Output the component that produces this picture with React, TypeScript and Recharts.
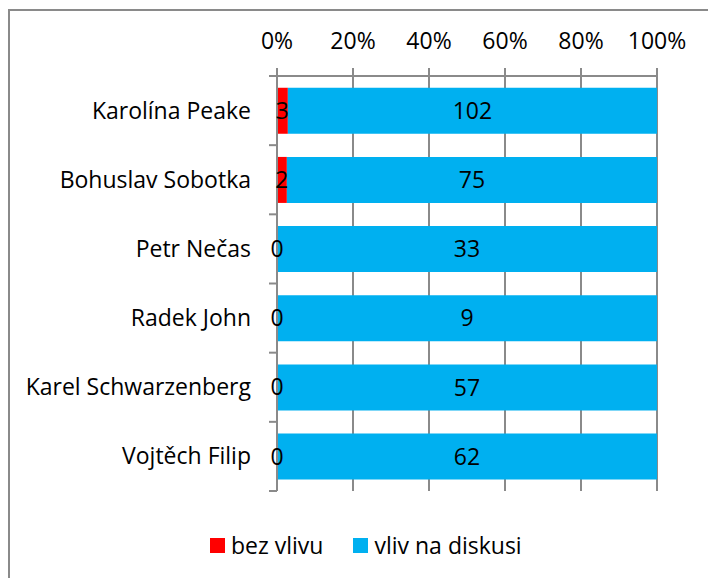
import React from 'react';
import { BarChart, Bar, XAxis, YAxis, CartesianGrid, LabelList, Legend } from 'recharts';

const categories = [
  'Karolína Peake',
  'Bohuslav Sobotka',
  'Petr Nečas',
  'Radek John',
  'Karel Schwarzenberg',
  'Vojtěch Filip',
];
const bezVlivu = [3, 2, 0, 0, 0, 0];
const vlivNaDiskusi = [102, 75, 33, 9, 57, 62];
const percentTicks = [0, 0.2, 0.4, 0.6, 0.8, 1];
const seriesNames = ['bez vlivu', 'vliv na diskusi'];
const seriesColors = ['#FF0000', '#00B0F0'];

const data = categories.map((name, i) => ({ name, bez: bezVlivu[i], vliv: vlivNaDiskusi[i] }));

const W = 708;
const H = 578;
const FONT = '"Open Sans", "Noto Sans", sans-serif';
const FS = 23;
const GRAY = '#8a8a8a';
const margin = { top: 16, right: 51, bottom: 20, left: 7 };
const X_AXIS_H = 60;
const LEGEND_H = 67;
const plotTop = margin.top + X_AXIS_H;
const plotH = H - margin.bottom - LEGEND_H - plotTop;
const band = plotH / categories.length;
const TICK_SIZE = 8;
const TICK_MARGIN = 18;

const YTick = (props: any) => {
  const { x, y, payload, index } = props;
  const axisX = x + TICK_SIZE + TICK_MARGIN;
  return (
    <g>
      <text x={x} y={y} dy="0.35em" textAnchor="end" fontSize={FS} fill="#000" fontFamily={FONT}>
        {payload.value}
      </text>
      <line x1={axisX - TICK_SIZE} x2={axisX} y1={y + band / 2} y2={y + band / 2} stroke={GRAY} strokeWidth={2} />
      {index === 0 && (
        <line x1={axisX - TICK_SIZE} x2={axisX} y1={y - band / 2} y2={y - band / 2} stroke={GRAY} strokeWidth={2} />
      )}
    </g>
  );
};

// draws the zero value of the first series at the left edge of the second series' bar
const ZeroLabel = (props: any) => {
  const { x, y, height, value } = props;
  if (value !== 0) return null;
  return (
    <text x={x} y={y + height / 2} dy="0.35em" textAnchor="middle" fontSize={FS} fill="#000" fontFamily={FONT}>
      {value}
    </text>
  );
};

const LegendContent = (props: any) => {
  const payload = props.payload || [];
  return (
    <div
      style={{
        height: LEGEND_H,
        boxSizing: 'border-box',
        paddingTop: 42,
        paddingLeft: 203,
        display: 'flex',
        alignItems: 'flex-start',
        fontFamily: FONT,
        fontSize: FS,
        color: '#000',
      }}
    >
      {payload.map((p: any, i: number) => (
        <div key={i} style={{ display: 'flex', alignItems: 'center', marginRight: 30, height: 24 }}>
          <div style={{ width: 15, height: 15, background: p.color, marginRight: 6 }} />
          <span style={{ lineHeight: '24px' }}>{p.value}</span>
        </div>
      ))}
    </div>
  );
};

export default function App() {
  return (
    <div
      style={{
        position: 'absolute',
        left: 0,
        top: 0,
        width: W,
        height: H,
        overflow: 'hidden',
        background: '#fff',
        fontFamily: FONT,
      }}
    >
      <div
        style={{
          position: 'absolute',
          left: 8,
          top: 9,
          width: 800,
          height: 700,
          border: `2px solid ${GRAY}`,
          boxSizing: 'border-box',
        }}
      />
      <div style={{ position: 'absolute', left: 0, top: 0 }}>
        <BarChart
          width={W}
          height={H}
          data={data}
          layout="vertical"
          stackOffset="expand"
          barCategoryGap="17%"
          margin={margin}
        >
          <CartesianGrid horizontal={false} stroke={GRAY} strokeWidth={2} />
          <XAxis
            type="number"
            orientation="top"
            domain={[0, 1]}
            ticks={percentTicks}
            tickFormatter={(v: number) => `${Math.round(v * 100)}%`}
            height={X_AXIS_H}
            tickSize={8}
            tickMargin={19}
            axisLine={{ stroke: GRAY, strokeWidth: 2 }}
            tickLine={{ stroke: GRAY, strokeWidth: 2 }}
            tick={{ fill: '#000', fontSize: FS, fontFamily: FONT }}
            interval={0}
          />
          <YAxis
            type="category"
            dataKey="name"
            width={270}
            axisLine={{ stroke: GRAY, strokeWidth: 2 }}
            tickLine={false}
            tickSize={TICK_SIZE}
            tickMargin={TICK_MARGIN}
            tick={<YTick />}
            interval={0}
          />
          <Legend verticalAlign="bottom" content={<LegendContent />} />
          <Bar dataKey="bez" name={seriesNames[0]} stackId="a" fill={seriesColors[0]} isAnimationActive={false}>
            <LabelList dataKey="bez" position="center" fill="#000" fontSize={FS} fontFamily={FONT} />
          </Bar>
          <Bar dataKey="vliv" name={seriesNames[1]} stackId="a" fill={seriesColors[1]} isAnimationActive={false}>
            <LabelList dataKey="vliv" position="center" fill="#000" fontSize={FS} fontFamily={FONT} />
            <LabelList dataKey="bez" content={<ZeroLabel />} />
          </Bar>
        </BarChart>
      </div>
    </div>
  );
}
